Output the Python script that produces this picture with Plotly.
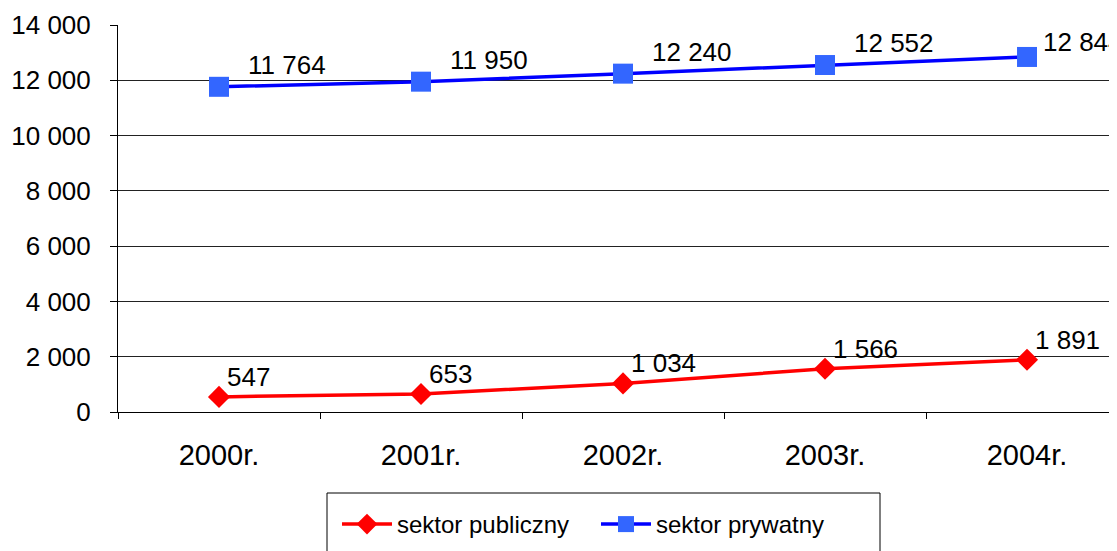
import plotly.graph_objects as go

categories = ["2000r.", "2001r.", "2002r.", "2003r.", "2004r."]
publiczny = [547, 653, 1034, 1566, 1891]
prywatny = [11764, 11950, 12240, 12552, 12844]
series_names = ["sektor publiczny", "sektor prywatny"]
y_ticks = [0, 2000, 4000, 6000, 8000, 10000, 12000, 14000]

FONT = "Liberation Sans, Arial, sans-serif"
# page is rendered with an 8px body margin; layout numbers compensate
L, T, B = 110, 17, 147
PLOT_W = 1117 - L
PLOT_H = 551 - T - B


def fmt(v):
    return f"{v:,}".replace(",", " ")


fig = go.Figure()
fig.add_trace(go.Scatter(
    x=categories, y=publiczny, name=series_names[0], mode="lines+markers",
    line=dict(color="#FF0000", width=3.5),
    marker=dict(symbol="diamond", size=17, color="#FF0000"),
    cliponaxis=False,
))
fig.add_trace(go.Scatter(
    x=categories, y=prywatny, name=series_names[1], mode="lines+markers",
    line=dict(color="#0000FF", width=3.5),
    marker=dict(symbol="square", size=20, color="#3366FF"),
    cliponaxis=False,
))

annotations = []
for c, v in zip(categories, publiczny):
    annotations.append(dict(x=c, y=v, text=fmt(v), showarrow=False,
                            xanchor="left", yanchor="middle", xshift=6, yshift=20,
                            font=dict(family=FONT, size=26, color="black")))
for i, (c, v) in enumerate(zip(categories, prywatny)):
    last = i == len(categories) - 1
    annotations.append(dict(x=c, y=v, text=fmt(v), showarrow=False,
                            xanchor="left", yanchor="middle",
                            xshift=14 if last else 27, yshift=15 if last else 22,
                            font=dict(family=FONT, size=26, color="black")))

# legend frame (the reference's box is wider than its entries)
fig.add_shape(type="rect", xref="paper", yref="paper",
              x0=(327 - 8 - L) / PLOT_W, x1=(880 - 8 - L) / PLOT_W,
              y0=(PLOT_H + T - (493 - 8)) / PLOT_H, y1=(PLOT_H + T - (560 - 8)) / PLOT_H,
              line=dict(color="black", width=1), fillcolor="rgba(0,0,0,0)")

fig.update_layout(
    width=1117, height=551,
    margin=dict(l=L, r=0, t=T, b=B, autoexpand=False),
    paper_bgcolor="white", plot_bgcolor="white",
    font=dict(family=FONT, size=24, color="black"),
    separators=", ",
    showlegend=True,
    legend=dict(orientation="h", x=(337 - 8 - L) / PLOT_W, xanchor="left",
                yref="paper", y=(PLOT_H + T - (502 - 8)) / PLOT_H, yanchor="top",
                borderwidth=0, bgcolor="rgba(0,0,0,0)",
                font=dict(family=FONT, size=24, color="black"),
                itemwidth=50, entrywidth=194, entrywidthmode="pixels"),
    annotations=annotations,
    xaxis=dict(
        type="category", range=[-0.5, 4.485], automargin=False,
        showline=True, linecolor="black", linewidth=1,
        ticks="outside", tickson="boundaries", ticklen=6, tickcolor="black",
        showgrid=False, ticklabelstandoff=17,
        tickfont=dict(family=FONT, size=29, color="black"),
    ),
    yaxis=dict(
        range=[0, 14000], tickvals=y_ticks, tickformat=",d", automargin=False,
        showline=True, linecolor="black", linewidth=1,
        ticks="outside", ticklen=7, tickcolor="black",
        showgrid=True, gridcolor="#222222", gridwidth=1,
        zeroline=True, zerolinecolor="black", zerolinewidth=1,
        ticklabelstandoff=14,
        tickfont=dict(family=FONT, size=26, color="black"),
    ),
)

fig.write_html("out.html")
